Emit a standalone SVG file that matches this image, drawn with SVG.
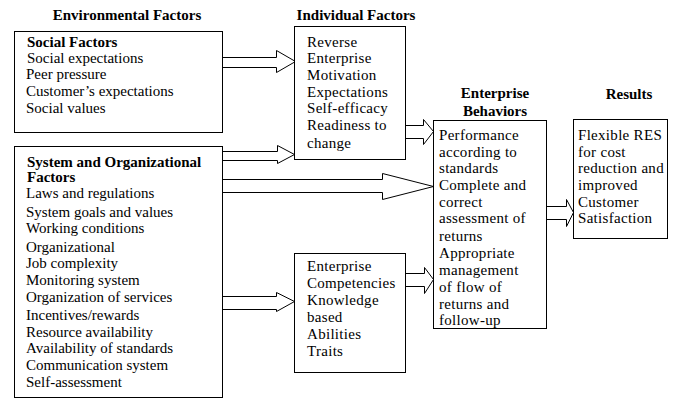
<svg xmlns="http://www.w3.org/2000/svg" width="691" height="401" viewBox="0 0 691 401">
<style>
.box{fill:#fff;stroke:#000;stroke-width:1}
.arr{fill:#fff;stroke:#000;stroke-width:1;stroke-linejoin:miter}
text{font-family:"Liberation Serif","Times New Roman",serif;fill:#000}
.t{font-size:15px;font-weight:bold;text-anchor:middle}
.h{font-size:15px;font-weight:bold}
.b{font-size:15px}
.m{font-size:15px;letter-spacing:0.3px}
</style>
<rect width="691" height="401" fill="#fff"/>
<text class="t" x="127" y="20">Environmental Factors</text>
<text class="t" x="356" y="20">Individual Factors</text>
<text class="t" x="495" y="98">Enterprise</text>
<text class="t" x="495" y="116">Behaviors</text>
<text class="t" x="629" y="99">Results</text>

<g id="connectors">
<path class="arr" d="M222.5,57.5 H276.5 V50.5 L295.5,61.5 L276.5,72.5 V67.5 H222.5"/>
<path class="arr" d="M222.5,151.5 H277.5 V145.5 L294.5,154.5 L277.5,163.5 V160.5 H222.5"/>
<path class="arr" d="M222.5,179.5 H382.5 V173.5 L433.5,186.5 L382.5,199.5 V192.5 H222.5"/>
<path class="arr" d="M222.5,296.5 H276.5 V292.5 L294.5,301.5 L276.5,311.5 V309.5 H222.5"/>
<path class="arr" d="M405.5,125.5 H423.5 V119.5 L433.5,131.5 L423.5,144.5 V138.5 H405.5"/>
<path class="arr" d="M405.5,273.5 H424.5 V267.5 L433.5,279.5 L424.5,293.5 V286.5 H405.5"/>
<path class="arr" d="M546.5,206.5 H566.5 V199.5 L573.5,212.5 L566.5,226.5 V219.5 H546.5"/>
</g>

<g id="social">
<rect class="box" x="14.5" y="31.5" width="208" height="101"/>
<text class="h" x="27" y="47">Social Factors</text>
<text class="b" x="27" y="63">Social expectations</text>
<text class="b" x="26" y="79">Peer pressure</text>
<text class="b" x="26" y="96">Customer’s expectations</text>
<text class="b" x="26" y="113">Social values</text>
</g>

<g id="system">
<rect class="box" x="14.5" y="146.5" width="208" height="251"/>
<text class="h" x="27" y="167">System and  Organizational</text>
<text class="h" x="27" y="182">Factors</text>
<text class="b" x="26" y="198">Laws and regulations</text>
<text class="b" x="26" y="217">System goals and values</text>
<text class="b" x="26" y="233">Working conditions</text>
<text class="b" x="26" y="252">Organizational</text>
<text class="b" x="26" y="268">Job complexity</text>
<text class="b" x="26" y="285">Monitoring system</text>
<text class="b" x="26" y="302">Organization of services</text>
<text class="b" x="26" y="320">Incentives/rewards</text>
<text class="b" x="26" y="337">Resource availability</text>
<text class="b" x="26" y="353">Availability of standards</text>
<text class="b" x="26" y="370">Communication system</text>
<text class="b" x="26" y="387">Self-assessment</text>
</g>

<g id="individual">
<rect class="box" x="294.5" y="26.5" width="111" height="133"/>
<text class="m" x="307" y="47">Reverse</text>
<text class="m" x="307" y="63">Enterprise</text>
<text class="m" x="307" y="80">Motivation</text>
<text class="m" x="307" y="97">Expectations</text>
<text class="m" x="307" y="113">Self-efficacy</text>
<text class="m" x="307" y="130">Readiness to</text>
<text class="m" x="307" y="148">change</text>
</g>

<g id="competencies">
<rect class="box" x="294.5" y="253.5" width="111" height="119"/>
<text class="m" x="307" y="271">Enterprise</text>
<text class="m" x="307" y="288">Competencies</text>
<text class="m" x="307" y="305">Knowledge</text>
<text class="m" x="307" y="322">based</text>
<text class="m" x="307" y="339">Abilities</text>
<text class="m" x="307" y="356">Traits</text>
</g>

<g id="enterprise">
<rect class="box" x="433.5" y="120.5" width="113" height="208"/>
<text class="m" x="439" y="140">Performance</text>
<text class="m" x="439" y="157">according to</text>
<text class="m" x="439" y="173">standards</text>
<text class="m" x="439" y="190">Complete and</text>
<text class="m" x="439" y="207">correct</text>
<text class="m" x="439" y="223">assessment of</text>
<text class="m" x="439" y="241">returns</text>
<text class="m" x="439" y="258">Appropriate</text>
<text class="m" x="439" y="275">management</text>
<text class="m" x="439" y="292">of flow of</text>
<text class="m" x="439" y="309">returns and</text>
<text class="m" x="439" y="325">follow-up</text>
</g>

<g id="results">
<rect class="box" x="573.5" y="119.5" width="94" height="119"/>
<text class="m" x="578" y="140">Flexible RES</text>
<text class="m" x="578" y="157">for cost</text>
<text class="m" x="578" y="173">reduction and</text>
<text class="m" x="578" y="190">improved</text>
<text class="m" x="578" y="207">Customer</text>
<text class="m" x="578" y="223">Satisfaction</text>
</g>
</svg>
